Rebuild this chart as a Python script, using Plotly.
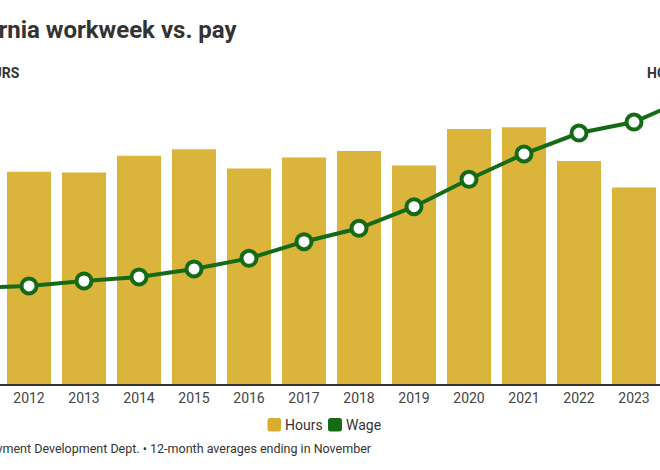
import plotly.graph_objects as go

years = list(range(2011, 2025))
hours = [34.50, 34.67, 34.66, 34.95, 35.06, 34.73, 34.92, 35.03, 34.78, 35.41, 35.44, 34.86, 34.40, 34.30]
wage = [28.30, 28.48, 28.91, 29.26, 29.95, 30.87, 32.31, 33.47, 35.34, 37.71, 39.90, 41.71, 42.66, 44.74]

title = "California workweek vs. pay"
source = "Source: California Employment Development Dept. \u2022 12-month averages ending in November"
series_names = ["Hours", "Wage"]

BAR = "#dbb43b"
GREEN = "#156b15"
TXT = "#333333"
W, H = 660, 470
T, B = 95, 86
PH = H - T - B

def px(xpx):
    return xpx / W

def py(ypx):
    return (H - B - ypx) / PH

def rounded_rect(x0, y0, x1, y1, r=2.5):
    # pixel coords -> paper path with rounded corners
    X = lambda v: f"{px(v):.5f}"
    Y = lambda v: f"{py(v):.5f}"
    return (f"M {X(x0 + r)},{Y(y0)} L {X(x1 - r)},{Y(y0)} Q {X(x1)},{Y(y0)} {X(x1)},{Y(y0 + r)} "
            f"L {X(x1)},{Y(y1 - r)} Q {X(x1)},{Y(y1)} {X(x1 - r)},{Y(y1)} "
            f"L {X(x0 + r)},{Y(y1)} Q {X(x0)},{Y(y1)} {X(x0)},{Y(y1 - r)} "
            f"L {X(x0)},{Y(y0 + r)} Q {X(x0)},{Y(y0)} {X(x0 + r)},{Y(y0)} Z")

fig = go.Figure()
fig.add_trace(go.Bar(x=years, y=hours, name=series_names[0], marker_color=BAR,
                     marker_line_width=0, showlegend=False))
fig.add_trace(go.Scatter(x=years, y=wage, name=series_names[1], yaxis="y2", mode="lines+markers",
                         line=dict(color=GREEN, width=4),
                         marker=dict(size=15, color="white", line=dict(color=GREEN, width=4)),
                         showlegend=False))

shapes = [
    dict(type="path", xref="paper", yref="paper", path=rounded_rect(267.5, 418, 281, 431.5),
         fillcolor="#d8ae30", line=dict(width=0)),
    dict(type="path", xref="paper", yref="paper", path=rounded_rect(328, 418, 342, 431.5),
         fillcolor=GREEN, line=dict(width=0)),
]

fig.update_layout(
    width=W, height=H,
    margin=dict(l=0, r=0, t=T, b=B),
    paper_bgcolor="white", plot_bgcolor="white",
    font=dict(family="Roboto", color=TXT),
    bargap=0.2,
    showlegend=False,
    xaxis=dict(range=[2012 - 29 / 55, 2012 - 29 / 55 + 12], tickmode="array",
               tickvals=years, ticktext=[str(y) for y in years],
               showline=True, linecolor="#333333", linewidth=1.5,
               showgrid=False, zeroline=False, ticks="",
               tickfont=dict(size=14, color="#444444", family="Roboto")),
    yaxis=dict(range=[31, 36], visible=False, showgrid=False, fixedrange=True),
    yaxis2=dict(range=[20, 45], overlaying="y", side="right", visible=False, showgrid=False),
    shapes=shapes,
    annotations=[
        dict(text="<b>" + title + "</b>", x=px(239), xref="paper", xanchor="right",
             y=py(30), yref="paper", yanchor="middle", showarrow=False,
             font=dict(size=24, color=TXT, family="Roboto")),
        dict(text="<b>HOURS</b>", x=px(22), xref="paper", xanchor="right",
             y=py(73), yref="paper", yanchor="middle", showarrow=False,
             font=dict(size=14, color=TXT, family="Roboto")),
        dict(text="<b>HOURLY WAGE</b>", x=px(645), xref="paper", xanchor="left",
             y=py(73), yref="paper", yanchor="middle", showarrow=False,
             font=dict(size=14, color=TXT, family="Roboto")),
        dict(text=series_names[0], x=px(283), xref="paper", xanchor="left",
             y=py(425), yref="paper", yanchor="middle", showarrow=False,
             font=dict(size=14, color=TXT, family="Roboto")),
        dict(text=series_names[1], x=px(343.5), xref="paper", xanchor="left",
             y=py(425), yref="paper", yanchor="middle", showarrow=False,
             font=dict(size=14, color=TXT, family="Roboto")),
        dict(text=source, x=px(374), xref="paper", xanchor="right",
             y=py(448), yref="paper", yanchor="middle", showarrow=False,
             font=dict(size=12.5, color=TXT, family="Roboto")),
    ],
)

fig.write_html("out.html")
